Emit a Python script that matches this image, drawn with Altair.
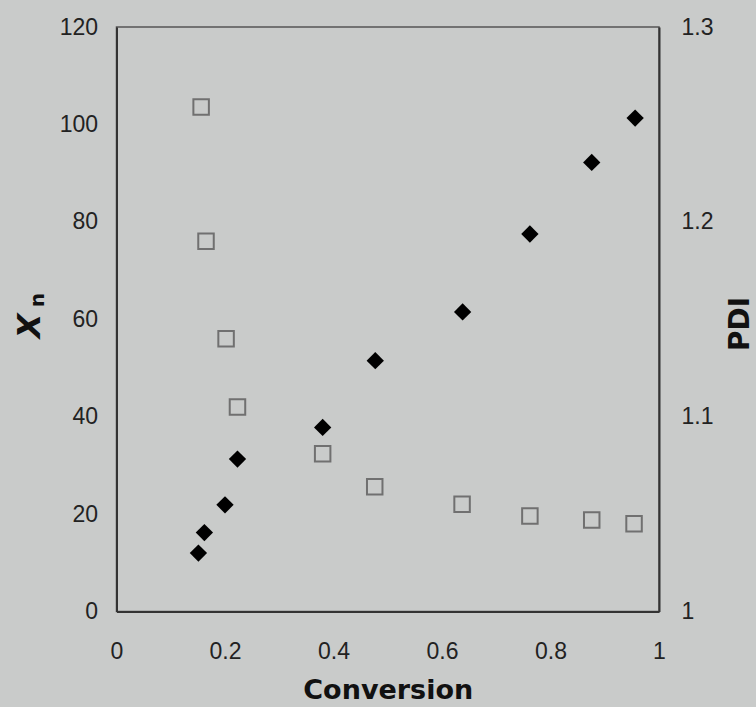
import altair as alt
import pandas as pd

# Degree of polymerization (Xn) vs conversion — filled black diamonds
conv_xn = [0.151, 0.162, 0.200, 0.223, 0.380, 0.477, 0.638, 0.762, 0.876, 0.956]
xn = [12.0, 16.2, 21.9, 31.3, 37.8, 51.5, 61.5, 77.5, 92.2, 101.3]

# Polydispersity index (PDI) vs conversion — open grey squares
conv_pdi = [0.156, 0.165, 0.202, 0.223, 0.380, 0.476, 0.637, 0.762, 0.876, 0.954]
pdi = [1.259, 1.190, 1.140, 1.105, 1.081, 1.064, 1.055, 1.049, 1.047, 1.045]

x_ticks = [0, 0.2, 0.4, 0.6, 0.8, 1]
xn_ticks = [0, 20, 40, 60, 80, 100, 120]
pdi_ticks = [1, 1.1, 1.2, 1.3]

df_xn = pd.DataFrame({"Conversion": conv_xn, "Xn": xn})
df_pdi = pd.DataFrame({"Conversion": conv_pdi, "PDI": pdi})
one = pd.DataFrame({"k": [0]})

BG = "#c9cbca"
LABEL_FONT = "Liberation Sans"
TITLE_FONT = "DejaVu Sans"

x_enc = alt.X(
    "Conversion:Q",
    scale=alt.Scale(domain=[0, 1], nice=False, zero=False),
    axis=alt.Axis(
        values=x_ticks, format="~g", ticks=False, grid=False, labelFlush=False,
        labelPadding=29, labelFontSize=23, labelFont=LABEL_FONT, labelColor="#222",
        domainColor="#333", domainWidth=2,
        title="Conversion", titleFont=TITLE_FONT, titleFontSize=27, titleFontWeight="bold",
        titleColor="#111", titleBaseline="alphabetic", titleY=86.5, titleAnchor="middle",
    ),
)

xn_layer = alt.Chart(df_xn).mark_point(
    shape="diamond", filled=True, color="#000", size=300, opacity=1
).encode(
    x=x_enc,
    y=alt.Y(
        "Xn:Q",
        scale=alt.Scale(domain=[0, 120], nice=False),
        axis=alt.Axis(
            orient="left", values=xn_ticks, ticks=False, grid=False, labelFlush=False,
            labelPadding=19, labelFontSize=23, labelFont=LABEL_FONT, labelColor="#222",
            domainColor="#333", domainWidth=2, title=None,
        ),
    ),
)

pdi_layer = alt.Chart(df_pdi).mark_point(
    shape="square", filled=False, color="#707070", size=240, strokeWidth=2, opacity=1
).encode(
    x=alt.X("Conversion:Q", scale=alt.Scale(domain=[0, 1], nice=False, zero=False)),
    y=alt.Y(
        "PDI:Q",
        scale=alt.Scale(domain=[1, 1.3], nice=False, zero=False),
        axis=alt.Axis(
            orient="right", values=pdi_ticks, format="~g", ticks=False, grid=False,
            labelFlush=False,
            labelPadding=22, labelFontSize=23, labelFont=LABEL_FONT, labelColor="#222",
            domainColor="#333", domainWidth=2,
            title="PDI", titleFont=TITLE_FONT, titleFontSize=28, titleFontWeight="bold",
            titleColor="#111", titleAngle=270, titleBaseline="alphabetic",
            titleAlign="center", titleX=89, titleY=296.5,
        ),
    ),
)

x_title = alt.Chart(one).mark_text(
    text="X", angle=270, font=TITLE_FONT, fontSize=32, fontWeight="bold",
    fontStyle="italic", baseline="alphabetic", align="center", color="#111",
).encode(x=alt.value(-76.5), y=alt.value(299))

n_sub = alt.Chart(one).mark_text(
    text="n", angle=270, font=TITLE_FONT, fontSize=20, fontWeight="bold",
    baseline="alphabetic", align="center", color="#111",
).encode(x=alt.value(-72.5), y=alt.value(273))

chart = (
    alt.layer(xn_layer, pdi_layer, x_title, n_sub)
    .resolve_scale(y="independent")
    .properties(
        width=542.5,
        height=584.5,
        padding={"left": 116.5, "top": 27, "right": 97, "bottom": 95.5},
        autosize=alt.AutoSizeParams(type="none"),
        background=BG,
    )
    .configure_view(stroke="#555", strokeWidth=1.5, fill=BG)
)

chart.save("out.html", embed_options={"renderer": "svg", "actions": False})
